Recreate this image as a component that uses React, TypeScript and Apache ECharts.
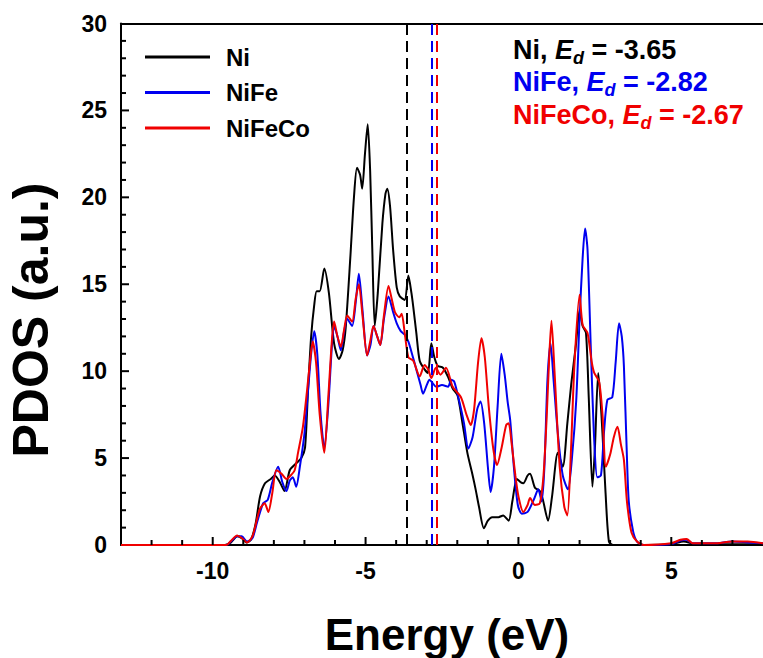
import React, { useEffect, useRef } from 'react';
import * as echarts from 'echarts';

const FONT = '"Liberation Sans", Arial, Helvetica, sans-serif';

const seriesNames = ['Ni', 'NiFe', 'NiFeCo'];
const seriesColors = ['#000000', '#0000f0', '#f00000'];
const dBandCenters = [-3.65, -2.82, -2.67];
const xMajorTicks = [-10, -5, 0, 5];
const xMinorTicks = [-12, -11, -9, -8, -7, -6, -4, -3, -2, -1, 1, 2, 3, 4, 6, 7];
const yMajorTicks = [5, 10, 15, 20, 25];
const yMinorTicks = [1, 2, 3, 4, 6, 7, 8, 9, 11, 12, 13, 14, 16, 17, 18, 19, 21, 22, 23, 24, 26, 27, 28, 29];

// Ni d-projected DOS
const energyNi = [
  -13, -9.6, -9.4, -9.2, -9.05, -8.9, -8.75, -8.6, -8.45, -8.29, -8.1, -7.97, -7.8, -7.65, -7.48, -7.27,
  -7.1, -6.98, -6.88, -6.78, -6.68, -6.6, -6.5, -6.35, -6.2, -6.03, -5.87, -5.75, -5.65, -5.5, -5.38,
  -5.28, -5.18, -5.11, -5.02, -4.93, -4.85, -4.78, -4.7, -4.6, -4.45, -4.35, -4.29, -4.2, -4.1, -3.98,
  -3.88, -3.72, -3.6, -3.5, -3.44, -3.34, -3.23, -3.07, -2.96, -2.85, -2.75, -2.64, -2.47, -2.31, -2.15,
  -1.99, -1.83, -1.67, -1.51, -1.4, -1.29, -1.13, -1.0, -0.86, -0.65, -0.5, -0.32, -0.2, -0.05, 0.08,
  0.16, 0.3, 0.38, 0.54, 0.7, 0.8, 0.97, 1.1, 1.29, 1.45, 1.6, 1.73, 1.88, 2.0, 2.1, 2.21, 2.3, 2.42,
  2.5, 2.61, 2.68, 2.75, 2.85, 2.96, 3.1, 5.0, 5.4, 5.8, 8,
];
const pdosNi = [
  0, 0, 0.15, 0.5, 0.4, 0.15, 0.3, 1.2, 2.8, 3.55, 3.8, 4.0, 3.6, 3.1, 4.3, 4.7,
  5.0, 5.6, 9.0, 12.0, 13.8, 14.6, 14.6, 15.9, 14.5, 11.6, 10.7, 11.2, 12.5, 16.5, 20.0,
  21.7, 21.3, 20.5, 22.5, 24.2, 21.5, 17.0, 12.6, 14.5, 18.5, 20.2, 20.5, 19.5, 17.0, 14.8,
  14.3, 14.1, 15.5, 14.5, 13.7, 12.2, 10.6, 10.1, 9.9, 11.6, 10.8, 10.3, 10.2, 9.7, 9.0,
  8.6, 7.0, 5.3, 4.1, 3.2, 2.2, 0.96, 1.4, 1.6, 1.6, 1.7, 1.4, 2.5, 3.8, 3.6,
  3.55, 4.0, 4.1, 3.3, 3.1, 2.6, 1.4, 2.8, 5.3, 4.5, 7.0, 9.3, 11.5, 13.5, 12.6, 12.2, 8.5, 3.35,
  5.5, 9.9, 8.5, 6.4, 3.0, 0.2, 0, 0.05, 0.2, 0.05, 0.05,
];

// NiFe d-projected DOS
const energyNiFe = [
  -13, -9.55, -9.4, -9.2, -9.05, -8.88, -8.7, -8.55, -8.35, -8.2, -8.05, -7.86, -7.72, -7.59, -7.48,
  -7.38, -7.27, -7.15, -7.0, -6.9, -6.78, -6.68, -6.58, -6.47, -6.35, -6.22, -6.1, -6.03, -5.92, -5.81,
  -5.7, -5.6, -5.44, -5.32, -5.22, -5.1, -4.95, -4.84, -4.74, -4.62, -4.52, -4.4, -4.25, -4.1, -3.98,
  -3.85, -3.72, -3.6, -3.45, -3.34, -3.2, -3.12, -3.0, -2.91, -2.8, -2.69, -2.5, -2.3, -2.2, -2.1,
  -1.94, -1.78, -1.64, -1.5, -1.35, -1.24, -1.12, -1.0, -0.91, -0.8, -0.68, -0.56, -0.45, -0.35, -0.27,
  -0.15, -0.02, 0.11, 0.3, 0.5, 0.65, 0.76, 0.85, 0.95, 1.05, 1.15, 1.29, 1.45, 1.62, 1.75, 1.89, 2.0,
  2.1, 2.18, 2.26, 2.37, 2.48, 2.58, 2.7, 2.8, 2.91, 3.07, 3.18, 3.29, 3.38, 3.45, 3.55, 3.61, 3.75,
  3.88, 4.1, 5.0, 5.3, 5.5, 5.7, 6.4, 7.0, 7.5, 8,
];
const pdosNiFe = [
  0, 0, 0.2, 0.5, 0.5, 0.2, 0.4, 1.3, 2.4, 2.6, 3.6, 4.5, 3.6, 3.1, 3.7,
  3.9, 3.35, 4.5, 6.4, 8.5, 11.0, 12.3, 11.0, 7.5, 5.6, 8.0, 11.5, 12.6, 12.0, 11.2,
  12.3, 13.0, 12.6, 14.0, 15.6, 13.5, 10.9, 11.5, 12.6, 12.0, 11.5, 13.0, 14.3, 13.4, 12.75,
  12.3, 12.1, 11.7, 10.8, 10.1, 9.2, 8.7, 9.2, 9.5, 9.3, 9.1, 9.2, 9.1, 9.5, 9.4,
  8.3, 7.0, 5.55, 6.2, 7.8, 8.25, 7.0, 4.5, 3.05, 4.5, 8.0, 11.0, 9.8, 8.2, 7.2,
  4.5, 2.3, 1.8, 1.9, 2.6, 3.2, 2.5, 4.5, 9.5, 11.6, 9.5, 6.4, 4.0, 3.2, 5.0, 8.3, 13.0,
  16.5, 18.2, 17.0, 11.2, 6.0, 3.9, 4.0, 6.5, 8.35, 8.5, 10.5, 12.75, 12.0, 10.3, 5.0, 2.5, 0.8,
  0.2, 0, 0.05, 0.25, 0.3, 0.1, 0.1, 0.2, 0.15, 0.1,
];

// NiFeCo d-projected DOS
const energyNiFeCo = [
  -13, -9.55, -9.4, -9.2, -9.05, -8.88, -8.7, -8.55, -8.45, -8.3, -8.18, -8.05, -7.92, -7.75, -7.59,
  -7.45, -7.32, -7.21, -7.05, -6.92, -6.82, -6.73, -6.62, -6.5, -6.35, -6.22, -6.1, -6.03, -5.92, -5.81,
  -5.7, -5.6, -5.44, -5.32, -5.22, -5.1, -4.95, -4.84, -4.74, -4.62, -4.52, -4.4, -4.25, -4.15, -4.04,
  -3.9, -3.82, -3.72, -3.6, -3.44, -3.23, -3.07, -2.95, -2.85, -2.7, -2.55, -2.37, -2.15, -1.88, -1.7,
  -1.56, -1.45, -1.32, -1.21, -1.1, -0.97, -0.82, -0.7, -0.55, -0.4, -0.32, -0.22, -0.1, 0.0, 0.16,
  0.3, 0.38, 0.54, 0.7, 0.82, 0.92, 1.0, 1.08, 1.18, 1.35, 1.5, 1.6, 1.72, 1.83, 2.0, 2.1, 2.26, 2.4,
  2.48, 2.64, 2.75, 2.86, 3.0, 3.12, 3.24, 3.35, 3.45, 3.55, 3.7, 3.88, 4.1, 5.0, 5.3, 5.5, 5.7, 6.4,
  7.0, 7.5, 8,
];
const pdosNiFeCo = [
  0, 0, 0.25, 0.55, 0.4, 0.15, 0.5, 1.5, 2.1, 2.4, 1.9, 3.0, 4.3, 4.1, 3.8,
  4.0, 4.3, 5.3, 6.8, 8.8, 10.5, 11.7, 10.5, 7.5, 5.3, 8.5, 11.8, 12.85, 12.0, 11.4,
  12.4, 13.2, 12.85, 14.2, 15.0, 13.2, 10.9, 11.8, 12.6, 12.0, 11.5, 13.2, 14.9, 14.2, 13.4,
  13.1, 13.3, 12.2, 10.8, 10.6, 9.7, 10.35, 10.1, 9.6, 10.2, 9.8, 10.2, 9.1, 8.5, 7.5,
  6.9, 7.8, 10.5, 11.9, 10.8, 7.95, 5.5, 4.6, 5.6, 6.9, 7.0, 5.8, 4.0, 2.8, 1.9,
  2.3, 2.7, 2.3, 2.4, 4.0, 7.2, 10.5, 12.9, 10.0, 4.5, 2.2, 1.7, 5.5, 10.3, 14.4, 12.65, 12.2, 10.5,
  9.9, 9.4, 7.5, 4.5, 5.2, 6.2, 6.8, 5.8, 4.9, 2.5, 0.7, 0.2, 0, 0.1, 0.3, 0.35, 0.1, 0.1,
  0.2, 0.2, 0.1,
];

const energies = [energyNi, energyNiFe, energyNiFeCo];
const pdosValues = [pdosNi, pdosNiFe, pdosNiFeCo];

const zip = (xs: number[], ys: number[]) => xs.map((x, i) => [x, ys[i]]);

const ANN_TOP = 36;
const ANN_ROW = 32.5;
const X_MIN = -13;
const X_MAX = 8;
const Y_MIN = 0;
const Y_MAX = 30;
const MAJOR_LEN = 8;
const MINOR_LEN = 5;

const axisStroke = { color: '#000', width: 2 };
const labelFont = { fontFamily: FONT, fontWeight: 'bold', fontSize: 23, color: '#000', margin: 14 };

// tick records: [value, 0 = x axis / 1 = y axis, 1 = major / 0 = minor]
const tickRecords = [
  ...xMajorTicks.map((v) => [v, 0, 1]),
  ...xMinorTicks.map((v) => [v, 0, 0]),
  ...yMajorTicks.map((v) => [v, 1, 1]),
  ...yMinorTicks.map((v) => [v, 1, 0]),
];

export default function App() {
  const ref = useRef<HTMLDivElement>(null);

  useEffect(() => {
    if (!ref.current) return;
    const chart = echarts.init(ref.current, undefined, { renderer: 'svg' });

    const lineSeries = seriesNames.map((name, i) => ({
      name,
      type: 'line',
      data: zip(energies[i], pdosValues[i]),
      symbol: 'none',
      smooth: 0.25,
      lineStyle: { color: seriesColors[i], width: 2 },
      itemStyle: { color: seriesColors[i] },
      z: 2 + i,
      markLine: {
        silent: true,
        symbol: 'none',
        label: { show: false },
        lineStyle: { color: seriesColors[i], type: [11, 6], width: 2 },
        data: [{ xAxis: dBandCenters[i] }],
      },
    }));

    // inward-pointing axis ticks, placed through the axis scales
    const tickSeries = {
      type: 'custom',
      silent: true,
      clip: false,
      z: 10,
      data: tickRecords,
      encode: { x: -1, y: -1 },
      renderItem: (_params: any, api: any) => {
        const value = api.value(0);
        const onY = api.value(1) === 1;
        const len = api.value(2) === 1 ? MAJOR_LEN : MINOR_LEN;
        if (onY) {
          const p = api.coord([X_MIN, value]);
          return {
            type: 'line',
            shape: { x1: p[0], y1: p[1], x2: p[0] + len, y2: p[1] },
            style: { stroke: '#000', lineWidth: 2 },
          };
        }
        const p = api.coord([value, Y_MIN]);
        return {
          type: 'line',
          shape: { x1: p[0], y1: p[1], x2: p[0], y2: p[1] - len },
          style: { stroke: '#000', lineWidth: 2 },
        };
      },
    };

    const annotations = seriesNames.map((name, i) => ({
      type: 'text',
      left: 513,
      top: ANN_TOP + i * ANN_ROW,
      style: {
        text: `{n|${name}, }{e|E}{s|d}{n| = ${dBandCenters[i].toFixed(2)}}`,
        fill: seriesColors[i],
        rich: {
          n: { fontFamily: FONT, fontWeight: 'bold', fontSize: 27, lineHeight: 34, verticalAlign: 'middle', fill: seriesColors[i] },
          e: { fontFamily: FONT, fontWeight: 'bold', fontStyle: 'italic', fontSize: 27, lineHeight: 34, verticalAlign: 'middle', fill: seriesColors[i] },
          s: { fontFamily: FONT, fontWeight: 'bold', fontStyle: 'italic', fontSize: 18, lineHeight: 18, verticalAlign: 'bottom', fill: seriesColors[i] },
        },
      },
    }));

    chart.setOption({
      animation: false,
      backgroundColor: '#ffffff',
      grid: {
        left: 121,
        top: 23.5,
        right: -8,
        bottom: 113,
      },
      legend: {
        orient: 'vertical',
        left: 145,
        top: 45,
        padding: 0,
        icon: 'rect',
        itemWidth: 65,
        itemHeight: 3,
        itemGap: 11.5,
        data: seriesNames,
        textStyle: {
          fontFamily: FONT,
          fontWeight: 'bold',
          fontSize: 24,
          lineHeight: 20,
          color: '#000',
          padding: [0, 0, 0, 11],
        },
      },
      xAxis: [
        {
          type: 'value',
          min: X_MIN,
          max: X_MAX,
          position: 'bottom',
          axisLine: { show: true, onZero: false, lineStyle: axisStroke },
          axisTick: { show: false },
          axisLabel: { show: true, customValues: xMajorTicks, ...labelFont },
          splitLine: { show: false },
        },
        {
          type: 'value',
          min: X_MIN,
          max: X_MAX,
          position: 'top',
          axisLine: { show: true, onZero: false, lineStyle: axisStroke },
          axisTick: { show: false },
          axisLabel: { show: false },
          splitLine: { show: false },
        },
      ],
      yAxis: {
        type: 'value',
        min: Y_MIN,
        max: Y_MAX,
        interval: 5,
        position: 'left',
        axisLine: { show: true, onZero: false, lineStyle: axisStroke },
        axisTick: { show: false },
        axisLabel: { show: true, ...labelFont },
        splitLine: { show: false },
      },
      graphic: [
        {
          type: 'text',
          x: 31,
          y: 320,
          rotation: Math.PI / 2,
          style: {
            text: 'PDOS (a.u.)',
            fontFamily: FONT,
            fontWeight: 'bold',
            fontSize: 50,
            fill: '#000',
            align: 'center',
            verticalAlign: 'middle',
          },
        },
        {
          type: 'text',
          x: 447,
          y: 634,
          style: {
            text: 'Energy (eV)',
            fontFamily: FONT,
            fontWeight: 'bold',
            fontSize: 44,
            fill: '#000',
            align: 'center',
            verticalAlign: 'middle',
          },
        },
        ...annotations,
      ],
      series: [...lineSeries, tickSeries],
    });

    return () => chart.dispose();
  }, []);

  return (
    <div
      ref={ref}
      style={{ position: 'fixed', left: 0, top: 0, width: 763, height: 658, background: '#fff' }}
    />
  );
}
